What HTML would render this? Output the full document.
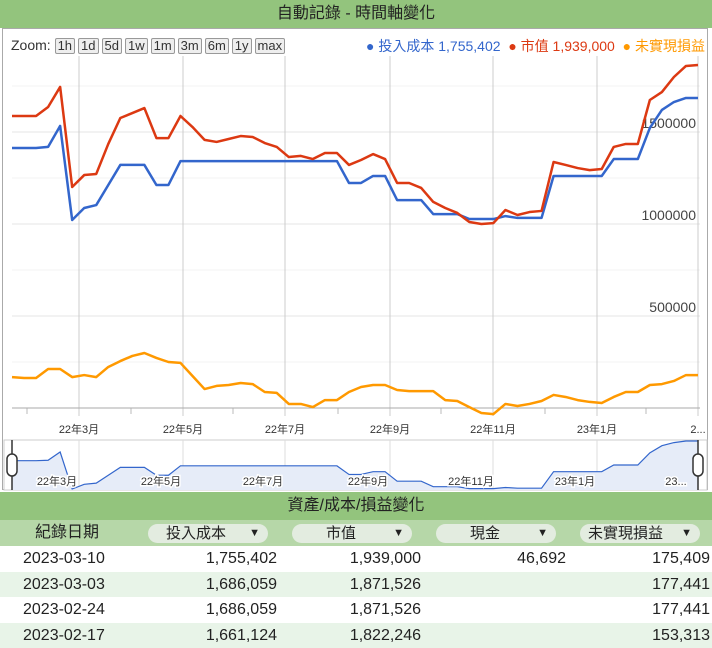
<!DOCTYPE html>
<html><head><meta charset="utf-8">
<style>
body{margin:0;width:712px;height:648px;overflow:hidden;background:#fff;font-family:"Liberation Sans","Noto Sans CJK TC",sans-serif;}
.bar{position:absolute;left:0;width:712px;background:#93c47d;text-align:center;color:#222;}
.btn{display:inline-block;border:1px solid #999;border-radius:2px;background:#eee;padding:0 2px;margin-right:3px;font-size:13px;line-height:14px;color:#333;}
.pill{position:absolute;top:524px;height:19px;background:#e3ece0;border-radius:10px;font-size:15px;line-height:19px;color:#222;}
.row{position:absolute;left:0;width:712px;height:25px;font-size:16px;line-height:25px;color:#222;}
.row span{position:absolute;}
</style></head><body>
<div class="bar" style="top:0;height:28px;font-size:16px;line-height:28px;">自動記錄 - 時間軸變化</div>
<div style="position:absolute;left:2px;top:28px;width:706px;height:462px;border:1px solid #aaa;box-sizing:border-box;"></div>
<div style="position:absolute;left:11px;top:37px;font-size:14px;color:#333;">Zoom: <span class="btn">1h</span><span class="btn">1d</span><span class="btn">5d</span><span class="btn">1w</span><span class="btn">1m</span><span class="btn">3m</span><span class="btn">6m</span><span class="btn">1y</span><span class="btn">max</span></div>
<div style="position:absolute;left:366px;top:36px;font-size:14px;white-space:nowrap;width:342px;overflow:hidden;"><span style="color:#3366cc">● 投入成本 1,755,402</span>&nbsp;&nbsp;<span style="color:#dc3912">● 市值 1,939,000</span>&nbsp;&nbsp;<span style="color:#ff9900">● 未實現損益 175,409</span></div>
<svg id="chart" width="712" height="492" style="position:absolute;left:0;top:0"></svg>
<div class="bar" style="top:492px;height:28px;font-size:16px;line-height:28px;">資產/成本/損益變化</div>
<div style="position:absolute;left:0;top:520px;width:712px;height:26px;background:#b6d7a8"></div>
<div style="position:absolute;left:35px;top:520px;font-size:16px;line-height:26px;color:#222">紀錄日期</div>
<div class="pill" style="left:148px;width:120px"><span style="position:absolute;left:18px">投入成本</span><span style="position:absolute;right:8px;font-size:11px">▼</span></div>
<div class="pill" style="left:292px;width:120px"><span style="position:absolute;left:34px">市值</span><span style="position:absolute;right:8px;font-size:11px">▼</span></div>
<div class="pill" style="left:436px;width:120px"><span style="position:absolute;left:34px">現金</span><span style="position:absolute;right:8px;font-size:11px">▼</span></div>
<div class="pill" style="left:580px;width:120px"><span style="position:absolute;left:8px">未實現損益</span><span style="position:absolute;right:8px;font-size:11px">▼</span></div>
<div id="rows"></div>
<script>
const weekDates=[];
const cost=[1413,1413,1413,1419,1533,1022,1087,1103,1212,1321,1321,1321,1212,1212,1342,1342,1342,1342,1342,1342,1342,1342,1342,1342,1342,1342,1342,1342,1223,1223,1261,1261,1130,1130,1130,1054,1054,1054,1027,1027,1027,1043,1033,1033,1033,1261,1261,1261,1261,1261,1353,1353,1353,1522,1620,1663,1685,1685];
const market=[1587,1587,1587,1636,1745,1201,1266,1272,1435,1576,1603,1630,1467,1467,1587,1527,1457,1446,1462,1478,1473,1440,1419,1364,1370,1353,1386,1386,1321,1348,1380,1353,1223,1223,1196,1120,1087,1060,1011,1000,1005,1076,1049,1065,1071,1337,1321,1304,1293,1299,1419,1435,1435,1674,1717,1799,1859,1864];
const unrealized=[168,163,163,212,212,168,179,168,223,255,283,299,272,250,245,174,103,120,125,136,130,87,82,22,22,5,43,43,87,114,125,125,98,92,92,92,43,38,5,-27,-33,22,11,22,38,71,60,43,33,27,60,87,87,125,130,147,179,179];
const yTicks=[500000,1000000,1500000];
const monthLabels=["22年3月","22年5月","22年7月","22年9月","22年11月","23年1月","2..."];
const navLabels=["22年3月","22年5月","22年7月","22年9月","22年11月","23年1月","23..."];
const tableDates=["2023-03-10","2023-03-03","2023-02-24","2023-02-17"];
const tableCost=["1,755,402","1,686,059","1,686,059","1,661,124"];
const tableMarket=["1,939,000","1,871,526","1,871,526","1,822,246"];
const tableCash=["46,692","","",""];
const tableUnreal=["175,409","177,441","177,441","153,313"];

const NS="http://www.w3.org/2000/svg";
const svg=document.getElementById('chart');
const n=cost.length;
const x0=12,x1=698;
const xs=i=>x0+i*(x1-x0)/(n-1);
const ys=v=>408-v/1000*184; // values in thousands
function mk(t,a){const e=document.createElementNS(NS,t);for(const k in a)e.setAttribute(k,a[k]);svg.appendChild(e);return e;}
// horizontal grid
for(let k=1;k<=7;k++){
 const g=mk('line',{x1:12,x2:700,y1:ys(k*250),y2:ys(k*250),stroke:k%2?'#f3f3f3':'#e6e6e6'});
 
 
}
const gx=[79,183,285,390,493,597,698];
gx.forEach((x,i)=>{
 const l=mk('line',{x1:x,x2:x,y1:56,y2:416,stroke:'#ccc'});
 
 
 const t=mk('text',{x:x,y:433,'font-size':11,'text-anchor':'middle',fill:'#333'});
 t.textContent=monthLabels[i];
 
 
 const m=mk('line',{x1:x-52,x2:x-52,y1:408,y2:414,stroke:'#bbb'});
 
 
});
const ax=mk('line',{x1:12,x2:700,y1:408,y2:408,stroke:'#aaa'});


yTicks.forEach(v=>{
 const t=mk('text',{x:696,y:ys(v/1000)-4,'font-size':14,'text-anchor':'end',fill:'#444'});
 t.textContent=String(v);
 
 
});
function line(arr,col,name){
 const p=mk('polyline',{points:arr.map((v,i)=>xs(i)+','+ys(v)).join(' '),fill:'none',stroke:col,'stroke-width':2.5,'stroke-linejoin':'round'});
 
 
}
line(unrealized,'#ff9900','unrealized-line');
line(cost,'#3366cc','cost-line');
line(market,'#dc3912','market-line');
// navigator
const nb=mk('rect',{x:4,y:440,width:703,height:50,fill:'#fff',stroke:'#ccc'});


gx.forEach(x=>{const l=mk('line',{x1:x,x2:x,y1:440,y2:490,stroke:'#ddd'});
 
 });
const mn=Math.min(...cost),mx=Math.max(...cost);
const ny=v=>489-(v-mn)/(mx-mn)*48;
const pts=cost.map((v,i)=>xs(i)+','+ny(v)).join(' ');
const na=mk('polygon',{points:x0+',490 '+pts+' '+x1+',490',fill:'#e6ecf8',stroke:'none'});


const nl=mk('polyline',{points:pts,fill:'none',stroke:'#3366cc','stroke-width':1.2});


gx.forEach((x,i)=>{
 const t=mk('text',{x:x-22,y:485,'font-size':11,'text-anchor':'middle',fill:'#333',stroke:'#fff','stroke-width':3,'paint-order':'stroke'});
 t.textContent=navLabels[i];
 
 
});
[x0,x1].forEach((x,i)=>{
 const l=mk('line',{x1:x,x2:x,y1:440,y2:490,stroke:'#333','stroke-width':1.5});
 
 
 const h=mk('rect',{x:x-5,y:454,width:10,height:22,rx:5,fill:'#fff',stroke:'#333','stroke-width':1.5});
 
 
});
// table rows
const rows=document.getElementById('rows');
tableDates.forEach((d,i)=>{
 const r=document.createElement('div');
 r.className='row';
 r.style.top=(546+i*25.5)+'px';
 r.style.background=i%2?'#e8f4e8':'#fff';
 
 
 r.innerHTML='<span style="left:23px">'+d+'</span><span style="right:435px">'+tableCost[i]+'</span><span style="right:291px">'+tableMarket[i]+'</span><span style="right:146px">'+tableCash[i]+'</span><span style="right:2px">'+tableUnreal[i]+'</span>';
 rows.appendChild(r);
});
</script>
</body></html>
